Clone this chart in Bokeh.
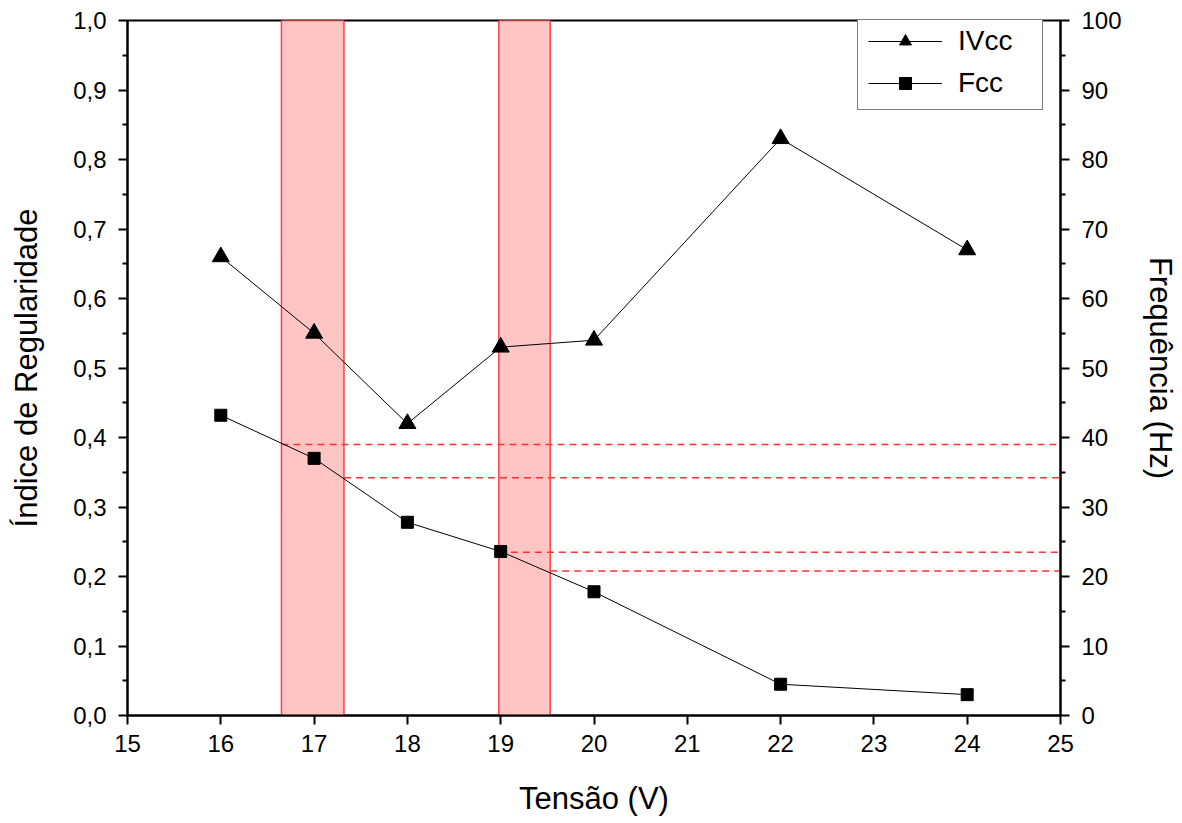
from bokeh.plotting import figure
from bokeh.models import (LinearAxis, Range1d, FixedTicker, CustomJSTickFormatter,
                          ColumnDataSource, Legend, LegendItem)
from bokeh.embed import file_html
from bokeh.resources import INLINE

# ---- data ----
tensao = [16, 17, 18, 19, 20, 22, 24]
ivcc = [0.66, 0.55, 0.42, 0.53, 0.54, 0.83, 0.67]
fcc = [43.2, 37.0, 27.8, 23.6, 17.8, 4.5, 3.0]

band_left = [16.65, 18.98]
band_right = [17.32, 19.53]

ref_start = [16.65, 17.32, 18.98, 19.53]
ref_freq = [39.0, 34.2, 23.5, 20.8]

x_ticks = [15, 16, 17, 18, 19, 20, 21, 22, 23, 24, 25]
left_ticks = [0.0, 0.1, 0.2, 0.3, 0.4, 0.5, 0.6, 0.7, 0.8, 0.9, 1.0]
left_minor = [0.05, 0.15, 0.25, 0.35, 0.45, 0.55, 0.65, 0.75, 0.85, 0.95]
right_ticks = [0, 10, 20, 30, 40, 50, 60, 70, 80, 90, 100]
right_minor = [5, 15, 25, 35, 45, 55, 65, 75, 85, 95]

FONT = "Liberation Sans"

p = figure(frame_width=933, frame_height=695, x_range=Range1d(15, 25), y_range=Range1d(0, 1),
           output_backend="svg", toolbar_location=None,
           min_border_left=127, min_border_right=114, min_border_top=20, min_border_bottom=100)
p.extra_y_ranges = {"freq": Range1d(0, 100)}
p.background_fill_color = "white"
p.border_fill_color = "white"
p.grid.visible = False
p.outline_line_color = "black"
p.outline_line_width = 2

# bands
bsrc = ColumnDataSource(dict(left=band_left, right=band_right,
                             bottom=[0] * len(band_left), top=[1] * len(band_left)))
p.quad(left="left", right="right", bottom="bottom", top="top", source=bsrc,
       fill_color="#ffc4c4", fill_alpha=1.0, line_color="#ff4040", line_width=1.5)

# dashed reference lines
rsrc = ColumnDataSource(dict(x0=ref_start, x1=[25] * len(ref_start), y=ref_freq))
p.segment(x0="x0", y0="y", x1="x1", y1="y", source=rsrc, y_range_name="freq",
          line_color="#ff3333", line_width=1.4, line_dash="7 5")

# series
s1 = ColumnDataSource(dict(x=tensao, y=ivcc))
s2 = ColumnDataSource(dict(x=tensao, y=fcc))
l1 = p.line("x", "y", source=s1, line_color="black", line_width=1)
m1 = p.scatter("x", "y", source=s1, marker="triangle", size=17, fill_color="black", line_color="black")
l2 = p.line("x", "y", source=s2, y_range_name="freq", line_color="black", line_width=1)
m2 = p.scatter("x", "y", source=s2, y_range_name="freq", marker="square", size=12,
               fill_color="black", line_color="black")

# axes
def style(ax):
    ax.axis_line_width = 2
    ax.axis_line_color = "black"
    ax.major_tick_line_width = 2
    ax.minor_tick_line_width = 2
    ax.major_tick_line_color = "black"
    ax.minor_tick_line_color = "black"
    ax.major_tick_out = 9
    ax.major_tick_in = 0
    ax.minor_tick_out = 5
    ax.minor_tick_in = 0
    ax.major_label_text_font = FONT
    ax.major_label_text_font_size = "24px"
    ax.major_label_text_color = "black"
    ax.axis_label_text_font = FONT
    ax.axis_label_text_font_size = "31px"
    ax.axis_label_text_font_style = "normal"
    ax.axis_label_text_color = "black"

xa = p.xaxis[0]
style(xa)
xa.ticker = FixedTicker(ticks=x_ticks)
xa.axis_label = "Tensão (V)"
xa.axis_label_standoff = 26
xa.major_label_standoff = 10

ya = p.yaxis[0]
style(ya)
ya.ticker = FixedTicker(ticks=left_ticks, minor_ticks=left_minor)
ya.formatter = CustomJSTickFormatter(code="return tick.toFixed(1).replace('.', ',');")
ya.axis_label = "Índice de Regularidade"
ya.axis_label_standoff = 26
ya.major_label_standoff = 12

ra = LinearAxis(y_range_name="freq")
style(ra)
ra.ticker = FixedTicker(ticks=right_ticks, minor_ticks=right_minor)
ra.axis_label = "Frequência (Hz)"
ra.axis_label_standoff = 18
ra.major_label_standoff = 12
p.add_layout(ra, "right")

legend = Legend(items=[LegendItem(label="IVcc", renderers=[l1, m1]),
                       LegendItem(label="Fcc", renderers=[l2, m2])],
                location=(730, 605))
legend.label_text_font = FONT
legend.label_text_font_size = "28px"
legend.label_text_color = "black"
legend.glyph_width = 74
legend.glyph_height = 30
legend.label_height = 30
legend.label_width = 74
legend.label_standoff = 16
legend.spacing = 10
legend.padding = 10
legend.margin = 0
legend.border_line_color = "black"
legend.border_line_width = 1.5
legend.background_fill_color = "white"
legend.background_fill_alpha = 1
p.add_layout(legend, "center")

open("out.html", "w").write(file_html(p, INLINE))
